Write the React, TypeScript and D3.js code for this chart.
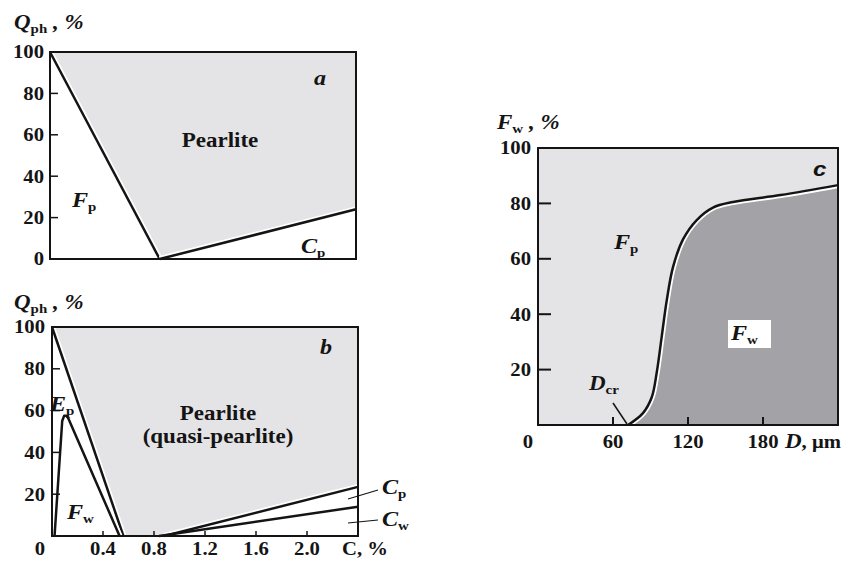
import * as d3 from 'd3';
import React from 'react';

// carbon content ticks (panels a, b)
const C_TICKS = [0.4, 0.8, 1.2, 1.6, 2.0];
const C_TICK_LABELS = ['0.4', '0.8', '1.2', '1.6', '2.0'];
const Q_TICKS_A = [0, 20, 40, 60, 80, 100];
const Q_TICKS_B = [20, 40, 60, 80, 100];
// panel c ticks
const FW_TICKS = [20, 40, 60, 80, 100];
const D_TICKS = [60, 120, 180];

// panel a: [C %, Q %]
const ferriteLineA = [[0, 100], [0.86, 0]];
const cementiteLineA = [[0.86, 0], [2.4, 24]];

// panel b
const ferriteLineB = [[0, 100], [0.56, 0]];
const widmanLineB = [[0.02, 0], [0.08, 55], [0.095, 57.5], [0.115, 57.5], [0.13, 56], [0.53, 0]];
const cementiteLineB = [[0.88, 0], [2.4, 23.5]];
const widmanCemLineB = [[0.84, 0], [2.4, 14]];

// panel c: grain size D (um) vs Widmanstatten ferrite %
const dValues = [72, 84, 91, 95, 99, 103, 108, 116, 127, 140, 156, 194, 240];
const fwValues = [0, 4.3, 10, 19, 32, 45, 57, 67, 74, 78.5, 80.5, 83, 86.6];

const LIGHT = '#e4e4e6';
const DARK = '#a3a3a7';
const INK = '#141414';
const SX = 1.15;
const SERIF = '"Liberation Serif", "Times New Roman", serif';

const T = ({ x, y, anchor = 'start', size = 18, italic = false, family = SERIF, children }: any) => (
  <text
    transform={`translate(${x},${y}) scale(${SX},1)`}
    textAnchor={anchor}
    dy="0.35em"
    fontSize={size}
    fontWeight="bold"
    fontStyle={italic ? 'italic' : 'normal'}
    fontFamily={family}
    fill={INK}
  >
    {children}
  </text>
);

const Sub = ({ children, after }: any) => (
  <>
    <tspan fontSize={13} fontStyle="normal" dy={4}>{children}</tspan>
    {after !== undefined && <tspan dy={-4}>{after}</tspan>}
  </>
);

const App = () => {
  const xA = d3.scaleLinear().domain([0, 2.4]).range([50, 356]);
  const yA = d3.scaleLinear().domain([0, 100]).range([259, 52]);
  const xB = d3.scaleLinear().domain([0, 2.4]).range([52, 358]);
  const yB = d3.scaleLinear().domain([0, 100]).range([536, 327]);
  const xC = d3.scaleLinear().domain([0, 240]).range([538, 838]);
  const yC = d3.scaleLinear().domain([0, 100]).range([425, 148]);

  const lineA = d3.line().x((d: any) => xA(d[0])).y((d: any) => yA(d[1]));
  const lineB = d3.line().x((d: any) => xB(d[0])).y((d: any) => yB(d[1]));

  const fillA = [[0, 100], [2.4, 100], cementiteLineA[1], cementiteLineA[0], ferriteLineA[0]];
  const fillB = [[0, 100], [2.4, 100], cementiteLineB[1], cementiteLineB[0], ferriteLineB[1], ferriteLineB[0]];

  const curvePts = dValues.map((d, i) => [d, fwValues[i]] as [number, number]);
  const smooth = d3.curveCatmullRom.alpha(0.5);
  const curveC = d3.line().x((d: any) => xC(d[0])).y((d: any) => yC(d[1])).curve(smooth);
  const areaC = d3.area().x((d: any) => xC(d[0])).y0(yC(0)).y1((d: any) => yC(d[1])).curve(smooth);

  const bold = (d: string | null, key: string, halo = true, clip?: string) => (
    <g key={key}>
      {halo && <path d={d || ''} fill="none" stroke="#fff" strokeWidth={6} strokeLinejoin="round" clipPath={clip} />}
      <path d={d || ''} fill="none" stroke={INK} strokeWidth={2.5} strokeLinejoin="round" />
    </g>
  );

  return (
    <svg width={858} height={565} style={{ position: 'absolute', left: 0, top: 0, background: '#fff' }}>
      <defs>
        <clipPath id="darkClip">
          <path d={areaC(curvePts as any) || ''} />
        </clipPath>
      </defs>
      {/* ---------- panel a ---------- */}
      <path d={lineA(fillA as any) + 'Z'} fill={LIGHT} />
      {bold(lineA(ferriteLineA as any), 'fa')}
      {bold(lineA(cementiteLineA as any), 'ca')}
      <rect x={xA(0)} y={yA(100)} width={xA(2.4) - xA(0)} height={yA(0) - yA(100)} fill="none" stroke={INK} strokeWidth={2} />
      {Q_TICKS_A.map((v) => (
        <g key={'qa' + v}>
          <line x1={xA(0)} x2={xA(0) + 8} y1={yA(v)} y2={yA(v)} stroke={INK} strokeWidth={1.5} />
          <T x={44} y={yA(v)} anchor="end">{v}</T>
        </g>
      ))}
      <T x={14} y={22} size={20} italic>Q<Sub after=" , %">ph</Sub></T>
      <T x={314} y={78} size={21} italic>a</T>
      <T x={220} y={140} size={20} anchor="middle">Pearlite</T>
      <T x={72} y={200} size={21} italic>F<Sub>p</Sub></T>
      <T x={301} y={246} size={21} italic>C<Sub>p</Sub></T>

      {/* ---------- panel b ---------- */}
      <path d={lineB(fillB as any) + 'Z'} fill={LIGHT} />
      {bold(lineB(ferriteLineB as any), 'fb')}
      {bold(lineB(widmanLineB as any), 'wb')}
      {bold(lineB(cementiteLineB as any), 'cb')}
      {bold(lineB(widmanCemLineB as any), 'wcb', false)}
      <rect x={xB(0)} y={yB(100)} width={xB(2.4) - xB(0)} height={yB(0) - yB(100)} fill="none" stroke={INK} strokeWidth={2} />
      {Q_TICKS_B.map((v) => (
        <g key={'qb' + v}>
          <line x1={xB(0)} x2={xB(0) + 8} y1={yB(v)} y2={yB(v)} stroke={INK} strokeWidth={1.5} />
          <T x={45} y={yB(v)} anchor="end">{v}</T>
        </g>
      ))}
      {C_TICKS.map((v, i) => (
        <g key={'cb' + v}>
          <line x1={xB(v)} x2={xB(v)} y1={yB(0)} y2={yB(0) - 5} stroke={INK} strokeWidth={1.5} />
          <T x={xB(v)} y={549} anchor="middle">{C_TICK_LABELS[i]}</T>
        </g>
      ))}
      <T x={40} y={549} anchor="middle">0</T>
      <T x={342} y={549}>C, %</T>
      <T x={14} y={302} size={20} italic>Q<Sub after=" , %">ph</Sub></T>
      <T x={320} y={347} size={21} italic>b</T>
      <T x={218} y={413} size={20} anchor="middle">Pearlite</T>
      <T x={218} y={436} size={20} anchor="middle">(quasi-pearlite)</T>
      <T x={50} y={404} size={21} italic>E<Sub>p</Sub></T>
      <T x={67} y={512} size={21} italic>F<Sub>w</Sub></T>
      <line x1={348} y1={499} x2={378} y2={490} stroke={INK} strokeWidth={1.2} />
      <line x1={348} y1={523} x2={378} y2={520} stroke={INK} strokeWidth={1.2} />
      <T x={382} y={487} size={21} italic>C<Sub>p</Sub></T>
      <T x={382} y={519} size={21} italic>C<Sub>w</Sub></T>

      {/* ---------- panel c ---------- */}
      <rect x={xC(0)} y={yC(100)} width={xC(240) - xC(0)} height={yC(0) - yC(100)} fill={LIGHT} />
      <path d={areaC(curvePts as any) || ''} fill={DARK} />
      {bold(curveC(curvePts as any), 'curve', true, 'url(#darkClip)')}
      <rect x={xC(0)} y={yC(100)} width={xC(240) - xC(0)} height={yC(0) - yC(100)} fill="none" stroke={INK} strokeWidth={2} />
      {FW_TICKS.map((v) => (
        <g key={'fw' + v}>
          <line x1={xC(0)} x2={xC(0) + 13} y1={yC(v)} y2={yC(v)} stroke={INK} strokeWidth={2} />
          <T x={531} y={yC(v)} anchor="end">{v}</T>
        </g>
      ))}
      {D_TICKS.map((v) => (
        <g key={'d' + v}>
          <line x1={xC(v)} x2={xC(v)} y1={yC(0)} y2={yC(0) - 8} stroke={INK} strokeWidth={2} />
          <T x={xC(v)} y={442} anchor="middle">{v}</T>
        </g>
      ))}
      <T x={528} y={442} anchor="middle">0</T>
      <T x={785} y={442}><tspan fontStyle="italic" fontSize={20}>D</tspan>, μm</T>
      <T x={497} y={122} size={20} italic>F<Sub after=" , %">w</Sub></T>
      <T x={813} y={169} size={21} italic family='"Liberation Sans", Arial, sans-serif'>c</T>
      <T x={614} y={242} size={21} italic>F<Sub>p</Sub></T>
      <rect x={728} y={320} width={43} height={28} fill="#fff" />
      <T x={731} y={333} size={21} italic>F<Sub>w</Sub></T>
      <T x={589} y={383} size={20} italic>D<Sub>cr</Sub></T>
      <line x1={613} y1={403} x2={627} y2={424} stroke={INK} strokeWidth={1.5} />
    </svg>
  );
};

export default App;
